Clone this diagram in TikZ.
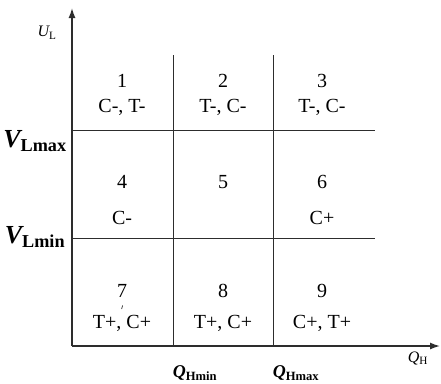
\documentclass[tikz,border=0pt]{standalone}
\usepackage{fontspec}
\setmainfont{Liberation Serif}
\usetikzlibrary{arrows.meta, positioning}
\definecolor{gridcolor}{RGB}{45,45,45}

\begin{document}
\begin{tikzpicture}[
    x=1pt, y=-1pt,
    >={Latex[length=10pt, width=7pt]},
    axis/.style={draw=gridcolor, line width=1.4pt},
    gridline/.style={draw=gridcolor, line width=0.9pt},
    cell/.style={font=\fontsize{20}{23}\selectfont, inner sep=0pt},
    level/.style={font=\fontsize{26}{29}\selectfont\bfseries\itshape, inner sep=0pt},
    tick/.style={font=\fontsize{18}{21}\selectfont\bfseries\itshape, inner sep=0pt},
    axlabel/.style={font=\fontsize{16}{18}\selectfont\itshape, inner sep=0pt},
]
    \useasboundingbox (0,0) rectangle (441,383);
    % axes
    \coordinate (O) at (72,346);
    \coordinate (ytop) at (72,8);
    \coordinate (xend) at (440,346);
    \draw[axis, ->] (O) -- (ytop);
    \draw[axis, ->] (O) -- (xend);
    % grid
    \coordinate (qmin top) at (173,55);
    \coordinate (qmin bot) at (173,346);
    \coordinate (qmax top) at (273,55);
    \coordinate (qmax bot) at (273,346);
    \coordinate (vmax left) at (72,130);
    \coordinate (vmax right) at (375,130);
    \coordinate (vmin left) at (72,238);
    \coordinate (vmin right) at (375,238);
    \draw[gridline] (qmin top) -- (qmin bot);
    \draw[gridline] (qmax top) -- (qmax bot);
    \draw[gridline] (vmax left) -- (vmax right);
    \draw[gridline] (vmin left) -- (vmin right);
    % axis labels
    \node[axlabel] (ul) at (47,33) {U\textsubscript{\upshape L}};
    \node[axlabel] (qh) at (418,358) {Q\textsubscript{\upshape H}};
    \node[level] (vmax) at (35,141) {V\textsubscript{\upshape Lmax}};
    \node[level] (vmin) at (35,237) {V\textsubscript{\upshape Lmin}};
    \node[tick] (qmin) at (195,373) {Q\textsubscript{\upshape Hmin}};
    \node[tick] (qmax) at (296,373) {Q\textsubscript{\upshape Hmax}};
    % regions
    \node[cell] (n1) at (122,81) {1};
    \node[cell, below=11pt of n1] (t1) {C-, T-};
    \node[cell] (n2) at (223,81) {2};
    \node[cell, below=11pt of n2] (t2) {T-, C-};
    \node[cell] (n3) at (322,81) {3};
    \node[cell, below=11pt of n3] (t3) {T-, C-};
    \node[cell] (n4) at (122,182) {4};
    \node[cell] (t4) at (122,218) {C-};
    \node[cell] (n5) at (223,182) {5};
    \node[cell] (n6) at (322,182) {6};
    \node[cell] (t6) at (322,218) {C+};
    \node[cell] (n7) at (122,291) {7};
    \node[cell, below=17pt of n7] (t7) {T+, C+};
    % small stroke under the 7
    \coordinate (mark top) at (122.6,305.5);
    \coordinate (mark bot) at (121.6,309);
    \draw[gridline, line width=0.7pt] (mark top) -- (mark bot);
    \node[cell] (n8) at (223,291) {8};
    \node[cell, below=17pt of n8] (t8) {T+, C+};
    \node[cell] (n9) at (322,291) {9};
    \node[cell, below=17pt of n9] (t9) {C+, T+};
\end{tikzpicture}
\end{document}
